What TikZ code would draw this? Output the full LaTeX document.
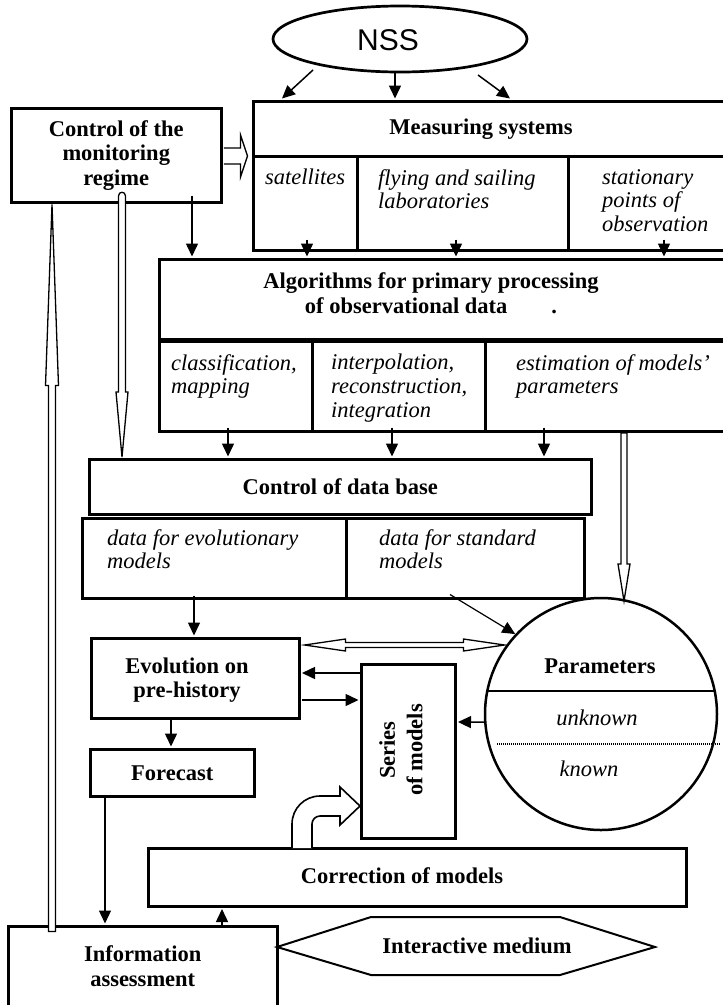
\documentclass[tikz,border=0pt]{standalone}
\usepackage{fontspec}
\setmainfont{Liberation Serif}
\newfontfamily\nssfont{Liberation Sans}
\usetikzlibrary{arrows.meta,shapes.geometric,calc}

\tikzset{
  boxline/.style={draw, line width=2.5pt},
  rbox/.style={boxline, rectangle, inner sep=0pt, anchor=north west},
  hd/.style={font=\fontsize{22.5}{24.5}\selectfont\bfseries, align=center, inner sep=0pt},
  it/.style={font=\fontsize{22.5}{23.8}\selectfont\itshape, align=left, inner sep=0pt, anchor=north west},
  itc/.style={font=\fontsize{22.5}{24}\selectfont\itshape, inner sep=0pt},
  arr/.style={line width=1.5pt, -{Triangle[length=13pt,width=12pt]}},
  hollow/.style={draw, fill=white, line width=1.3pt, line join=miter},
}

\begin{document}
\begin{tikzpicture}[x=1pt, y=-1pt]
\useasboundingbox (0,0) rectangle (723,1005);
\fill[white] (0,0) rectangle (723,1005);
\clip (0,0) rectangle (723,1005);

% ---------- top: NSS and measuring systems ----------
\node[ellipse, draw, line width=2.7pt, minimum width=254pt, minimum height=66pt, inner sep=0pt] (nss) at (400,39) {};
\node[font=\fontsize{30}{31}\selectfont\nssfont, inner sep=0pt] (nssT) at (388,40) {NSS};

\node[rbox, minimum width=493pt, minimum height=55pt] (measH) at (252,100) {};
\node[hd] (measT) at (481,129) {Measuring systems};
\node[rbox, minimum width=104pt, minimum height=94pt] (sat)  at (252,155) {};
\node[rbox, minimum width=211pt, minimum height=94pt] (fly)  at (356,155) {};
\node[rbox, minimum width=178pt, minimum height=94pt] (stat) at (567,155) {};
\node[it] (satT)  at (265,169) {satellites};
\node[it] (flyT)  at (378,169) {flying and sailing\\laboratories};
\node[it] (statT) at (602,169) {stationary\\points of\\observation};

\node[rbox, minimum width=210pt, minimum height=94pt, hd] (ctrl) at (10,107) {Control of the\\monitoring\\regime};

% ---------- processing algorithms ----------
\node[rbox, minimum width=587pt, minimum height=80pt] (algH) at (158,258) {};
\node[hd] (algT) at (431,293) {Algorithms for primary processing\\of observational data\hspace{44pt}.};
\draw[line width=5pt] (algH.south west) -- (algH.south east);
\node[rbox, minimum width=153pt, minimum height=92pt] (cls) at (158,338) {};
\node[rbox, minimum width=173pt, minimum height=92pt] (itp) at (311,338) {};
\node[rbox, minimum width=261pt, minimum height=92pt] (est) at (484,338) {};
\node[it] (clsT) at (171,354) {classification,\\mapping};
\node[it] (itpT) at (331,354) {interpolation,\\reconstruction,\\integration};
\node[it] (estT) at (516,354) {estimation of models'\\parameters};

% ---------- data base ----------
\node[rbox, minimum width=502pt, minimum height=55pt, hd] (db) at (88,458) {Control of data base};
\node[rbox, minimum width=264pt, minimum height=80pt] (dEvo) at (81,517) {};
\node[rbox, minimum width=238pt, minimum height=80pt] (dStd) at (345,517) {};
\node[it] (dEvoT) at (107,529) {data for evolutionary\\models};
\node[it] (dStdT) at (379,529) {data for standard\\models};

% ---------- models ----------
\node[rbox, minimum width=208pt, minimum height=80pt] (evol) at (90,637) {};
\node[hd] (evolT) at (187,680) {Evolution on\\pre-history};
\node[rbox, minimum width=94pt, minimum height=174pt] (series) at (360,663) {};
\node[hd, rotate=90] (seriesT) at (401,750) {Series\\[3pt]of models};
\node[rbox, minimum width=164pt, minimum height=47pt, hd] (fc) at (89,748) {Forecast};
\node[rbox, minimum width=538pt, minimum height=58pt] (corr) at (147,847) {};
\node[hd] (corrT) at (402,876) {Correction of models};
\node[rbox, minimum width=269pt, minimum height=80pt, hd] (info) at (7,925) {Information\\assessment};

% parameters circle
\node[circle, draw, line width=2.5pt, minimum size=232pt, inner sep=0pt] (params) at (601,714) {};
\node[hd] (paramT) at (600,666) {Parameters};
\draw[line width=1.3pt] ($(params.center)+(-113.7,-23)$) -- ($(params.center)+(113.7,-23)$);
\node[itc] (unkT) at (597,718) {unknown};
\draw[line width=1.2pt, dash pattern=on 1pt off 1pt] ($(params.center)+(-104,30)$) -- ($(params.center)+(119,30)$);
\node[itc] (knT) at (589,769) {known};

% interactive medium
\node[hd] (hexa) at (477,946) {Interactive medium};
\draw[line width=2pt, line join=miter] ($(hexa.center)+(-200,1)$) -- ++(94,-30) -- ++(189,0) -- ++(95,30) -- ++(-95,28) -- ++(-189,0) -- cycle;

% ---------- thin connectors ----------
\draw[arr] ($(nss.center)+(-87,31)$) -- ($(measH.north west)+(30,-1.5)$);
\draw[arr] ($(nss.center)+(-5,34)$)  -- ($(measH.north west)+(143,-1.5)$);
\draw[arr] ($(nss.center)+(78,36)$)  -- ($(measH.north west)+(258,-1.5)$);

\draw[arr] ($(ctrl.south west)+(182,-8)$) -- ($(algH.north west)+(34,-1.5)$);

\draw[arr] ($(sat.south west)+(55,-12)$)  -- ($(algH.north west)+(149,-1.5)$);
\draw[arr] ($(fly.south west)+(100,-12)$) -- ($(algH.north west)+(298,-1.5)$);
\draw[arr] ($(stat.south west)+(97,-12)$) -- ($(algH.north west)+(506,-1.5)$);

\draw[arr] ($(cls.south west)+(70,-5)$) -- ($(db.north west)+(140,-1.5)$);
\draw[arr] ($(itp.south west)+(81,-5)$) -- ($(db.north west)+(304,-1.5)$);
\draw[arr] ($(est.south west)+(60,-5)$) -- ($(db.north west)+(456,-1.5)$);

\draw[arr] ($(dEvo.south west)+(113,-4)$) -- ($(evol.north west)+(104,-1.5)$);
\draw[arr, line width=1.2pt] ($(dStd.south west)+(105,-5)$) -- (params.137);

\draw[arr] ($(series.north west)+(0,10)$) -- ($(evol.north east)+(1.5,36)$);
\draw[arr] ($(evol.north east)+(1.5,63)$) -- ($(series.north west)+(-1.5,37)$);
\draw[arr] (params.184) -- ($(series.north east)+(1.5,59)$);

\draw[arr] ($(evol.south west)+(81,0)$) -- ($(fc.north west)+(82,-1.5)$);
\draw[arr, line width=1.2pt] ($(fc.south west)+(16,0)$) -- ($(info.north west)+(98,-1.5)$);
\draw[arr] ($(info.north west)+(215,3)$) -- ($(corr.south west)+(75,1.5)$);

% ---------- hollow connectors ----------
% control of the monitoring regime -> measuring systems
\path[hollow] ($(ctrl.north east)+(1.3,41)$) -- ++(16.7,0) -- ++(0,-13) -- ++(7,21) -- ++(-7,21) -- ++(0,-13) -- ++(-16.7,0);
% control of the monitoring regime -> control of data base
\path[hollow] ($(db.north west)+(34,-1)$) -- ++(-6,-65) -- ++(2.5,0) -- ++(0,-196)
  .. controls +(0,-5) and +(0,-5) .. ++(7,0) -- ++(0,196) -- ++(2.5,0) -- cycle;
% information assessment -> control of the monitoring regime
\path[hollow] ($(ctrl.south west)+(42,1)$) -- ++(6.5,181) -- ++(-3,0) -- ++(0,546) -- ++(-7,0) -- ++(0,-546) -- ++(-3,0) -- cycle;
% algorithms -> parameters
\path[hollow] ($(params.center)+(23,-113)$) -- ++(-6,-37) -- ++(3,0) -- ++(0,-131) -- ++(6,0) -- ++(0,131) -- ++(3,0) -- cycle;
% evolution on pre-history <-> parameters
\path[hollow] ($(evol.north east)+(4,8)$) -- ++(41,-6) -- ++(0,3.5) -- ++(118,0) -- ++(0,-3.5) -- ++(41,6)
  -- ++(-41,6) -- ++(0,-3.5) -- ++(-118,0) -- ++(0,3.5) -- cycle;
% correction of models -> series of models
\path[hollow, line width=1.6pt] ($(corr.north west)+(145,1)$) -- ++(0,-24)
  .. controls +(0,-15.5) and +(-15.5,0) .. ++(28,-28) -- ++(20,0) -- ++(0,-9) -- ++(20,19) -- ++(-20,19) -- ++(0,-9) -- ++(-20,0)
  .. controls +(-4.4,0) and +(0,-4.4) .. ++(-8,8) -- ++(0,24);
\end{tikzpicture}
\end{document}
